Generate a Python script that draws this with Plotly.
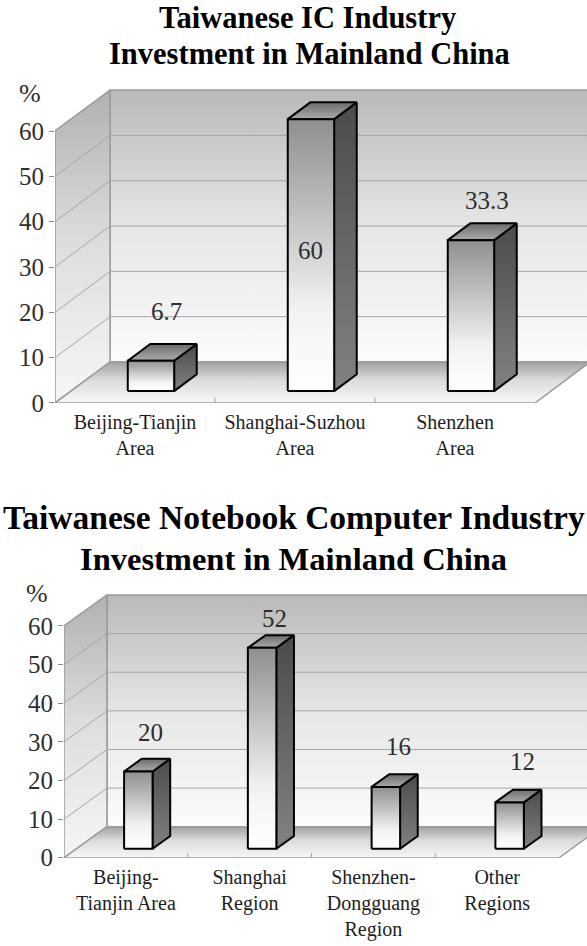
import plotly.graph_objects as go

# ---------------- data ----------------
IC_CATEGORIES = ["Beijing-Tianjin<br>Area", "Shanghai-Suzhou<br>Area", "Shenzhen<br>Area"]
IC_VALUES = [6.7, 60, 33.3]
IC_TITLE = ["Taiwanese IC Industry", "Investment in Mainland China"]

NB_CATEGORIES = ["Beijing-<br>Tianjin Area", "Shanghai<br>Region",
                 "Shenzhen-<br>Dongguang<br>Region", "Other<br>Regions"]
NB_VALUES = [20, 52, 16, 12]
NB_TITLE = ["Taiwanese Notebook Computer Industry", "Investment in Mainland China"]

Y_TICKS = [0, 10, 20, 30, 40, 50, 60]
Y_UNIT = "%"

SERIF = "Liberation Serif"
TEXT_COLOR = "#2e2e2e"

fig = go.Figure()


def poly(xs, ys, xa, ya, scale, line_color="black", line_width=2):
    fig.add_trace(go.Scatter(
        x=list(xs) + [xs[0]], y=list(ys) + [ys[0]], xaxis=xa, yaxis=ya,
        mode="lines", fill="toself",
        fillgradient=dict(type="vertical", colorscale=scale),
        line=dict(color=line_color, width=line_width),
        hoverinfo="skip", showlegend=False))


def lines(xs, ys, xa, ya, color, width):
    fig.add_trace(go.Scatter(
        x=xs, y=ys, xaxis=xa, yaxis=ya, mode="lines",
        line=dict(color=color, width=width),
        hoverinfo="skip", showlegend=False))


def add_chart(cats, vals, xa, ya, dx, dy, bw, z0=0.29, z1=0.70):
    n = len(cats)
    xl, xr = -0.5, n - 0.5
    top = max(Y_TICKS)
    wall_line = "#9a9a9a"
    # back wall
    poly([xl + dx, xr + dx, xr + dx, xl + dx], [dy, dy, top + dy, top + dy], xa, ya,
         [[0, "#fcfcfc"], [0.5, "#e6e6e6"], [1, "#b9b9b9"]], wall_line, 1.5)
    # left wall
    poly([xl, xl + dx, xl + dx, xl], [0, dy, top + dy, top], xa, ya,
         [[0, "#f6f6f6"], [0.5, "#dedede"], [1, "#b1b1b1"]], wall_line, 1.5)
    # floor
    poly([xl, xr, xr + dx, xl + dx], [0, 0, dy, dy], xa, ya,
         [[0, "#f7f7f7"], [0.55, "#dcdcdc"], [1, "#a2a2a2"]], wall_line, 1.5)
    # grid lines on back and left walls
    gx, gy = [], []
    for t in Y_TICKS[1:-1]:
        gx += [xl, xl + dx, xr + dx, None]
        gy += [t, t + dy, t + dy, None]
    lines(gx, gy, xa, ya, "#a6a6a6", 1)
    # small ticks on the floor front edge at category boundaries
    tx, ty = [], []
    for k in range(1, n):
        tx += [k - 0.5, k - 0.5, None]
        ty += [0, 1.2, None]
    lines(tx, ty, xa, ya, "#a0a0a0", 1)
    # bars
    for i, v in enumerate(vals):
        a0, a1 = i - bw / 2 + z0 * dx, i + bw / 2 + z0 * dx
        b0, b1 = i - bw / 2 + z1 * dx, i + bw / 2 + z1 * dx
        f0, f1 = z0 * dy, z1 * dy
        # side
        poly([a1, b1, b1, a1], [f0, f1, v + f1, v + f0], xa, ya,
             [[0, "#828282"], [1, "#4b4b4b"]])
        # top
        poly([a0, a1, b1, b0], [v + f0, v + f0, v + f1, v + f1], xa, ya,
             [[0, "#ababab"], [1, "#6c6c6c"]])
        # front
        poly([a0, a1, a1, a0], [f0, f0, v + f0, v + f0], xa, ya,
             [[0, "#ffffff"], [0.3, "#f2f2f2"], [1, "#8f8f8f"]])
        # value label: above the bar, or inside the front face if no room
        gap = 14 - 0.08 * v
        if v + gap > top + 5:
            lx, ly = (a0 + a1) / 2, v * 0.56
        else:
            lx, ly = i + 0.58 * dx, v + gap
        fig.add_annotation(x=lx, y=ly, xref=xa, yref=ya, text=f"{v:g}",
                           showarrow=False, font=dict(family=SERIF, size=25, color=TEXT_COLOR))


# top chart: IC industry
add_chart(IC_CATEGORIES, IC_VALUES, "x", "y", dx=0.344, dy=9.04, bw=0.29)
# bottom chart: notebook industry
add_chart(NB_CATEGORIES, NB_VALUES, "x2", "y2", dx=0.3475, dy=8.03, bw=0.23)

axis_common = dict(showgrid=False, zeroline=False, showline=False, fixedrange=True,
                   automargin=False)

fig.update_layout(
    width=587, height=946, margin=dict(l=0, r=0, t=0, b=0, pad=0, autoexpand=False),
    paper_bgcolor="white", plot_bgcolor="rgba(0,0,0,0)", showlegend=False,
    xaxis=dict(domain=[0.0937, 1.0], range=[-0.5, 2.825], anchor="y",
               tickvals=list(range(len(IC_CATEGORIES))), ticktext=IC_CATEGORIES,
               ticks="outside", ticklen=1, tickcolor="rgba(0,0,0,0)",
               tickfont=dict(family=SERIF, size=20, color="#1e1e1e"), **axis_common),
    yaxis=dict(domain=[0.5740, 0.9190], range=[0, 72], anchor="x",
               tickvals=Y_TICKS, ticks="outside", ticklen=5, tickcolor="#8a8a8a",
               tickfont=dict(family=SERIF, size=25, color=TEXT_COLOR), **axis_common),
    xaxis2=dict(domain=[0.1090, 1.0], range=[-0.5, 3.726], anchor="y2",
                tickvals=list(range(len(NB_CATEGORIES))), ticktext=NB_CATEGORIES,
                ticks="outside", ticklen=1, tickcolor="rgba(0,0,0,0)",
                tickfont=dict(family=SERIF, size=20, color="#1e1e1e"), **axis_common),
    yaxis2=dict(domain=[0.0933, 0.3873], range=[0, 72], anchor="x2",
                tickvals=Y_TICKS, ticks="outside", ticklen=5, tickcolor="#8a8a8a",
                tickfont=dict(family=SERIF, size=25, color=TEXT_COLOR), **axis_common),
)

# titles
for text, xc, yc, size in [(IC_TITLE[0], 307, 18, 30.5), (IC_TITLE[1], 309, 54, 30.5),
                           (NB_TITLE[0], 293.5, 517, 33.5), (NB_TITLE[1], 293.5, 559, 32.5)]:
    fig.add_annotation(x=xc / 587, y=1 - yc / 946, xref="paper", yref="paper",
                       text=f"<b>{text}</b>", showarrow=False,
                       font=dict(family=SERIF, size=size, color="black"),
                       xanchor="center", yanchor="middle")

# unit labels
for xc, yc in [(30, 93), (37, 593)]:
    fig.add_annotation(x=xc / 587, y=1 - yc / 946, xref="paper", yref="paper",
                       text=Y_UNIT, showarrow=False,
                       font=dict(family=SERIF, size=26, color=TEXT_COLOR),
                       xanchor="center", yanchor="middle")

fig.write_html("out.html")
